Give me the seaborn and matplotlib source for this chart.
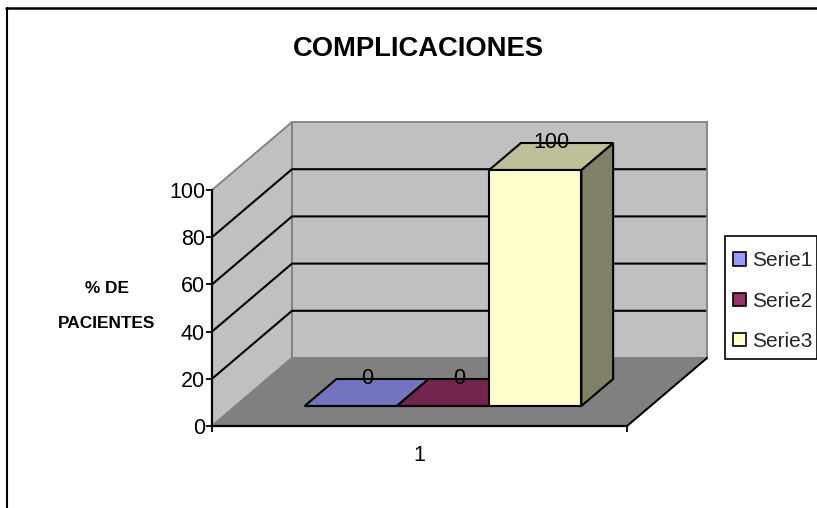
import matplotlib
matplotlib.use("Agg")
import matplotlib.pyplot as plt
from matplotlib.colors import to_rgb
from matplotlib.lines import Line2D
from matplotlib.patches import Polygon, Rectangle
import pandas as pd
import seaborn as sns

title = "COMPLICACIONES"
y_title = "% DE\nPACIENTES"
category = "1"
series_names = ["Serie1", "Serie2", "Serie3"]
series_values = [0, 0, 100]
series_colors = ["#9999FF", "#993366", "#FFFFCC"]
y_ticks = [0, 20, 40, 60, 80, 100]

W, H = 817, 508
sns.set_theme(style="white")
plt.rcParams["font.family"] = ["Liberation Sans", "DejaVu Sans"]

fig = plt.figure(figsize=(W / 100, H / 100), dpi=100, facecolor="white")

# Front plane of the oblique box, in figure pixels
PX_LEFT, PX_BOTTOM, PX_W, PX_H = 212, 426, 415, 236
# How far the box recedes, in pixels, over its full depth
DEPTH_PX_X, DEPTH_PX_Y = 80, 68
DX = DEPTH_PX_X / PX_W
DY = DEPTH_PX_Y / PX_H * 100
# Depth of the front and back faces of the bars
D0, D1 = 20 / 68, 47 / 68


def proj(x, y, d):
    """Oblique projection of a point at depth d (0 front, 1 back)."""
    return x + d * DX, y + d * DY


ax = fig.add_axes([PX_LEFT / W, 1 - PX_BOTTOM / H, PX_W / W, PX_H / H])
ax.set_xlim(-0.5, 0.5)
ax.set_ylim(0, 100)
ax.patch.set_visible(False)

WALL, FLOOR, EDGE = "#C0C0C0", "#808080", "#808080"
x0, x1 = -0.5, 0.5


def face(points, color, edge=EDGE, lw=1.3, z=1):
    ax.add_patch(Polygon(points, closed=True, facecolor=color, edgecolor=edge,
                         linewidth=lw, clip_on=False, zorder=z, joinstyle="miter"))


# Walls and floor
face([proj(x0, 0, 0), proj(x0, 100, 0), proj(x0, 100, 1), proj(x0, 0, 1)], WALL)
face([proj(x0, 0, 1), proj(x0, 100, 1), proj(x1, 100, 1), proj(x1, 0, 1)], WALL)
face([proj(x0, 0, 0), proj(x0, 0, 1), proj(x1, 0, 1), proj(x1, 0, 0)], FLOOR)
ax.add_line(Line2D(*zip(proj(x1, 0, 0), proj(x1, 0, 1)), color="black", lw=1.4,
                   clip_on=False, zorder=1.5))

# Gridlines along the left and back walls
for v in y_ticks[1:-1]:
    pts = [proj(x0, v, 0), proj(x0, v, 1), proj(x1 - 0.004, v, 1)]
    ax.add_line(Line2D(*zip(*pts), color="black", lw=1.5, clip_on=False, zorder=1.5))

# Bars live on their own axes, shifted to the depth of their front faces
front = fig.add_axes([(PX_LEFT + D0 * DEPTH_PX_X) / W,
                      1 - (PX_BOTTOM - D0 * DEPTH_PX_Y) / H,
                      PX_W / W, PX_H / H], zorder=3)
df = pd.DataFrame({"categoria": [category] * len(series_names),
                   "serie": series_names,
                   "valor": series_values})
sns.barplot(data=df, x="categoria", y="valor", hue="serie",
            hue_order=series_names, palette=series_colors, width=2 / 3, gap=0,
            saturation=1, edgecolor="black", linewidth=1.5, ax=front)
front.set_xlim(-0.5, 0.5)
front.set_ylim(0, 100)
front.axis("off")
for patch_artist in front.patches:
    patch_artist.set_clip_on(False)
handles, labels = front.get_legend_handles_labels()
front.get_legend().remove()


def shade(color, k):
    return tuple(c * k for c in to_rgb(color))


# Top and side faces of each bar, with its value above the middle of the top
for container, value, color in zip(front.containers, series_values, series_colors):
    rect = container[0]
    xa, xb = rect.get_x(), rect.get_x() + rect.get_width()
    top = [proj(xa, value, D0), proj(xa, value, D1), proj(xb, value, D1), proj(xb, value, D0)]
    side = [proj(xb, 0, D0), proj(xb, 0, D1), proj(xb, value, D1), proj(xb, value, D0)]
    face(side, shade(color, 0.5), edge="black", lw=1.5, z=2)
    face(top, shade(color, 0.75), edge="black", lw=1.5, z=2)
    lx, _ = proj((xa + xb) / 2, value, (D0 + D1) / 2)
    _, ly = proj(xa, value, D1)
    ax.text(lx, ly + 0.4, f"{value}", ha="center", va="center", fontsize=15.5,
            color="black", zorder=5, clip_on=False)

# Axes furniture
for name in ("top", "right"):
    ax.spines[name].set_visible(False)
for name in ("left", "bottom"):
    ax.spines[name].set_color("black")
    ax.spines[name].set_linewidth(1.6)
    ax.spines[name].set_zorder(2.5)
ax.set_yticks(y_ticks)
ax.set_xticks([x0, x1])
ax.set_xticklabels([])
ax.set_xticks([0], labels=[category], minor=True)
ax.tick_params(axis="y", which="major", left=True, length=4, width=1.3, color="black",
               labelsize=15.5, labelcolor="black", pad=1)
ax.tick_params(axis="x", which="major", bottom=True, length=4, width=1.3, color="black")
ax.tick_params(axis="x", which="minor", bottom=False, length=0, labelsize=15.5,
               labelcolor="black", pad=14)
ax.set_xlabel("")
ax.set_ylabel("")

fig.text(107 / W, 1 - 306 / H, y_title, ha="center", va="center", fontsize=12.4,
         fontweight="bold", color="black", linespacing=2.6)
fig.text(418 / W, 1 - 49 / H, title, ha="center", va="center", fontsize=19.7,
         fontweight="bold", color="black")

# Legend box at the right-hand side: the frame is drawn apart from the entries
fig.add_artist(Rectangle((725 / W, 1 - 359 / H), 92 / W, 123 / H, transform=fig.transFigure,
                         facecolor="white", edgecolor="black", linewidth=1.2, zorder=5))
leg = fig.legend(handles, labels, loc="upper left",
                 bbox_to_anchor=(733 / W, 1 - 251.5 / H), bbox_transform=fig.transFigure,
                 fontsize=15, frameon=False,
                 handlelength=0.62, handleheight=0.62, handletextpad=0.3,
                 labelspacing=1.02, borderpad=0, borderaxespad=0)
for h in leg.legend_handles:
    h.set_edgecolor("black")
    h.set_linewidth(1.2)
leg.set_zorder(6)

# Chart-area border, visible on the top and left only
fig.add_artist(Line2D([6.5 / W, 6.5 / W], [0, 1 - 8 / H], color="black", lw=1.5))
fig.add_artist(Line2D([6 / W, 1], [1 - 8 / H, 1 - 8 / H], color="black", lw=1.8))

fig.savefig("out.png", dpi=100)
